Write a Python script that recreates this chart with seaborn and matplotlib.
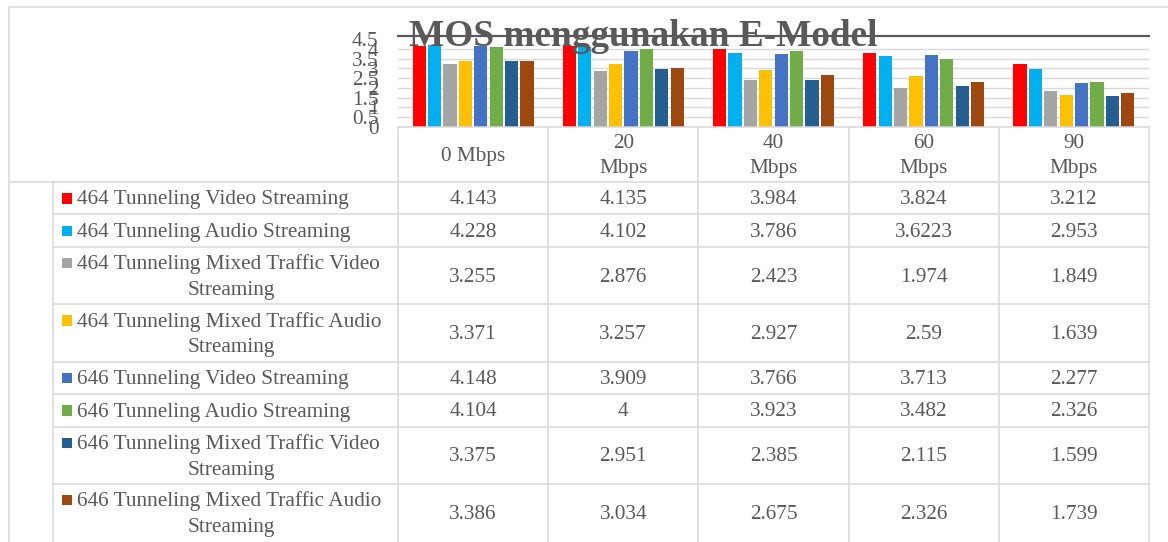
import numpy as np
import pandas as pd
import matplotlib
matplotlib.use("Agg")
import matplotlib.pyplot as plt
import matplotlib.transforms as mtransforms
from matplotlib.lines import Line2D
from matplotlib.patches import Rectangle
import seaborn as sns

speeds = ["0 Mbps", "20 Mbps", "40 Mbps", "60 Mbps", "90 Mbps"]
speed_labels = ["0 Mbps", "20\nMbps", "40\nMbps", "60\nMbps", "90\nMbps"]
series = [
    "464 Tunneling Video Streaming",
    "464 Tunneling Audio Streaming",
    "464 Tunneling Mixed Traffic Video Streaming",
    "464 Tunneling Mixed Traffic Audio Streaming",
    "646 Tunneling Video Streaming",
    "646 Tunneling Audio Streaming",
    "646 Tunneling Mixed Traffic Video Streaming",
    "646 Tunneling Mixed Traffic Audio Streaming",
]
colors = ["#FF0000", "#00B0F0", "#A5A5A5", "#FFC000",
          "#4472C4", "#70AD47", "#255E91", "#9E480E"]

tun464_video = [4.143, 4.135, 3.984, 3.824, 3.212]
tun464_audio = [4.228, 4.102, 3.786, 3.6223, 2.953]
tun464_mixed_video = [3.255, 2.876, 2.423, 1.974, 1.849]
tun464_mixed_audio = [3.371, 3.257, 2.927, 2.59, 1.639]
tun646_video = [4.148, 3.909, 3.766, 3.713, 2.277]
tun646_audio = [4.104, 4, 3.923, 3.482, 2.326]
tun646_mixed_video = [3.375, 2.951, 2.385, 2.115, 1.599]
tun646_mixed_audio = [3.386, 3.034, 2.675, 2.326, 1.739]

values = [tun464_video, tun464_audio, tun464_mixed_video, tun464_mixed_audio,
          tun646_video, tun646_audio, tun646_mixed_video, tun646_mixed_audio]
# text as printed in the table
value_text = [
    ["4.143", "4.135", "3.984", "3.824", "3.212"],
    ["4.228", "4.102", "3.786", "3.6223", "2.953"],
    ["3.255", "2.876", "2.423", "1.974", "1.849"],
    ["3.371", "3.257", "2.927", "2.59", "1.639"],
    ["4.148", "3.909", "3.766", "3.713", "2.277"],
    ["4.104", "4", "3.923", "3.482", "2.326"],
    ["3.375", "2.951", "2.385", "2.115", "1.599"],
    ["3.386", "3.034", "2.675", "2.326", "1.739"],
]
yticks = [0, 0.5, 1, 1.5, 2, 2.5, 3, 3.5, 4, 4.5]

rows = []
for name, vals in zip(series, values):
    for sp, v in zip(speeds, vals):
        rows.append({"speed": sp, "series": name, "mos": v})
df = pd.DataFrame(rows)

sns.set_theme(style="white")
plt.rcParams["font.family"] = ["Liberation Serif", "DejaVu Serif"]

TXT = "#595959"
GRID = "#d9d9d9"
FS = 15.3
W, H = 1168, 542

fig = plt.figure(figsize=(W / 100, H / 100), dpi=100)
fig.patch.set_facecolor("white")


def fx(x):
    return x / W


def fy(y):
    return 1 - y / H


# plot area: 0 at y=126.7px, 0.5 steps of 9.7px, dark top line at y=36px
ax_top, ax_bot, ax_left, ax_right = 36.0, 126.7, 398, 1149
ax = fig.add_axes([fx(ax_left), fy(ax_bot), fx(ax_right) - fx(ax_left), (ax_bot - ax_top) / H])
sns.barplot(data=df, x="speed", y="mos", hue="series", order=speeds, hue_order=series,
            palette=colors, saturation=1, width=0.82, gap=0.15, linewidth=0,
            errorbar=None, legend=False, ax=ax)

ax.set_ylim(0, 4.5 * (ax_bot - ax_top) / (ax_bot - 39.4))
ax.set_yticks(yticks)
ax.set_yticklabels([f"{t:g}" for t in yticks])
ax.tick_params(axis="y", length=0, pad=14, labelsize=FS, labelcolor=TXT)
ax.tick_params(axis="x", length=0, labelbottom=False)
ax.set_xlabel("")
ax.set_ylabel("")
ax.grid(axis="y", color=GRID, lw=1.0)
ax.get_ygridlines()[-1].set_visible(False)
ax.set_axisbelow(True)
for s in ["left", "right"]:
    ax.spines[s].set_visible(False)
ax.spines["top"].set_color(TXT)
ax.spines["top"].set_linewidth(1.6)
ax.spines["bottom"].set_color(GRID)
ax.spines["bottom"].set_linewidth(1.1)

fig.text(fx(643), fy(45.5), "MOS menggunakan E-Model", ha="center", va="baseline",
         fontsize=26.8, fontweight="bold", color=TXT)

# table lines
tr = mtransforms.blended_transform_factory(ax.transData, fig.transFigure)


def hline(x0, x1, y):
    fig.add_artist(Line2D([fx(x0), fx(x1)], [fy(y), fy(y)], color=GRID, lw=1.1))


def vline(x, y0, y1):
    fig.add_artist(Line2D([fx(x), fx(x)], [fy(y0), fy(y1)], color=GRID, lw=1.1))


# outer chart border
hline(9, W, 7)
vline(9, 7, H)

header_bottom = 181.7
hline(9, ax_right, header_bottom)
vline(53, header_bottom, H)
for xe in np.arange(len(speeds) + 1) - 0.5:
    fig.add_artist(Line2D([xe, xe], [fy(ax_bot), fy(H)], transform=tr, color=GRID, lw=1.1))

# header labels
hc = (ax_bot + header_bottom) / 2
for i, lab in enumerate(speed_labels):
    lines = lab.split("\n")
    n = len(lines)
    for k, line in enumerate(lines):
        yc = hc + (k - (n - 1) / 2) * 25.4
        fig.text(i, fy(yc + 6.5), line, transform=tr, ha="center", va="baseline",
                 fontsize=FS, color=TXT)

# body rows
y = header_bottom
for r, name in enumerate(series):
    if "Mixed" in name:
        lines = name.rsplit(" ", 1)
        h = 57.3
    else:
        lines = [name]
        h = 32.6
    yc = y + h / 2
    n = len(lines)
    for k, line in enumerate(lines):
        yl = yc + (k - (n - 1) / 2) * 25.4
        if k == 0:
            fig.add_artist(Rectangle((fx(61.7), fy(yl + 5.5)), 10.6 / W, 10.6 / H,
                                     facecolor=colors[r], edgecolor="none"))
            fig.text(fx(77), fy(yl + 6.5), line, ha="left", va="baseline",
                     fontsize=FS, color=TXT)
        else:
            fig.text(fx(231), fy(yl + 6.5), line, ha="center", va="baseline",
                     fontsize=FS, color=TXT)
    for i, s in enumerate(value_text[r]):
        fig.text(i, fy(yc + 6), s, transform=tr, ha="center", va="baseline",
                 fontsize=FS, color=TXT)
    y += h
    if r < len(series) - 1:
        hline(53, ax_right, y)

fig.savefig("out.png", dpi=100)
